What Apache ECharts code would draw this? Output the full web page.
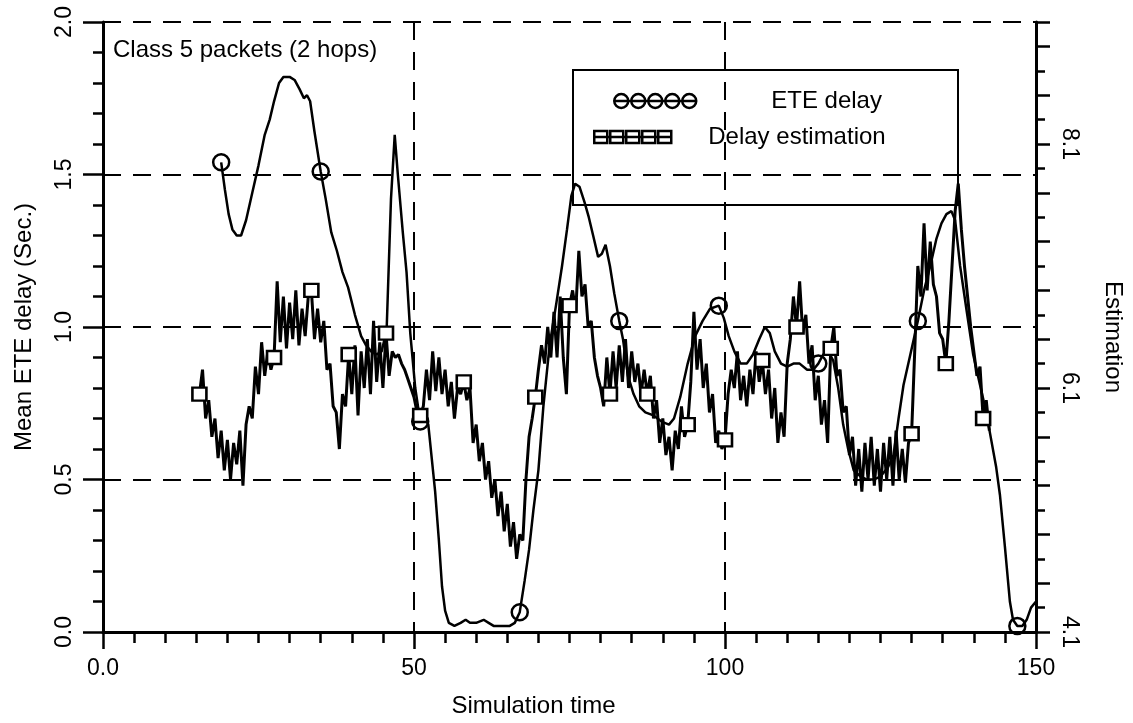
<!DOCTYPE html>
<html>
<head>
<meta charset="utf-8">
<title>Class 5 packets (2 hops)</title>
<script src="https://cdn.jsdelivr.net/npm/echarts@6/dist/echarts.min.js"></script>
<style>
  html, body { margin: 0; padding: 0; background: #fff; }
  #chart { width: 1133px; height: 723px; }
</style>
</head>
<body>
<div id="chart"></div>
<script>
// Axis tick labels
const timeTickLabels = ['0.0', '50', '100', '150'];
const delayTickLabels = ['0.0', '0.5', '1.0', '1.5', '2.0'];
const estimationTickLabels = ['4.1', '6.1', '8.1'];

// Mean end-to-end delay (seconds) against simulation time
const eteTime = [
  19, 19.6, 20.2, 20.8, 21.5, 22.2, 23.0, 24.0, 25.0, 26.0,
  26.8, 27.5, 28.3, 29.0, 30.0, 30.8, 31.6, 32.3, 32.8, 33.3,
  34.0, 35, 35.8, 36.7, 37.6, 38.5, 39.4, 40.5, 41.5, 42.3,
  43.1, 44.0, 44.8, 45.6, 46.3, 46.9, 47.4, 48.2, 48.8, 49.4,
  50.2, 51, 51.8, 52.3, 52.8, 53.4, 54.0, 54.5, 55.0, 55.6,
  56.5, 57.5, 58.3, 59.0, 60.0, 61.2, 62.0, 62.8, 64.0, 65.4,
  66.2, 67, 67.8, 68.5, 69.2, 70.0, 70.8, 71.8, 72.9, 73.8,
  74.6, 75.3, 75.9, 76.6, 77.4, 78.1, 78.8, 79.6, 80.2, 80.8,
  81.5, 82.2, 83, 83.6, 84.4, 85.3, 86.2, 87.2, 88.5, 89.8,
  91.0, 91.8, 92.8, 94.0, 95.2, 96.4, 97.6, 99, 99.8, 100.6,
  101.5, 102.5, 103.5, 104.5, 105.5, 106.4, 107.2, 108.0, 109.0, 110.0,
  111.0, 112.0, 113.2, 114.2, 115, 115.8, 116.6, 117.4, 118.2, 119.0,
  119.8, 120.7, 121.8, 122.8, 124.0, 125.0, 126.2, 127.1, 127.9, 128.7,
  129.8, 131, 132.0, 133.0, 134.0, 134.8, 135.6, 136.4, 137.0, 137.8,
  138.8, 139.9, 141.0, 142.0, 142.8, 143.6, 144.2, 145.0, 145.8, 146.3,
  147, 147.8, 148.5, 149.2, 150.0
];
const eteDelay = [
  1.54, 1.45, 1.37, 1.32, 1.30, 1.30, 1.35, 1.44, 1.53, 1.63,
  1.68, 1.74, 1.80, 1.82, 1.82, 1.81, 1.78, 1.75, 1.76, 1.74,
  1.64, 1.51, 1.42, 1.31, 1.25, 1.18, 1.13, 1.04, 0.97, 0.94,
  0.92, 0.91, 0.92, 0.99, 1.42, 1.63, 1.50, 1.31, 1.18, 0.98,
  0.80, 0.69, 0.70, 0.68, 0.58, 0.46, 0.30, 0.15, 0.07, 0.03,
  0.02, 0.03, 0.04, 0.03, 0.03, 0.04, 0.03, 0.02, 0.02, 0.02,
  0.03, 0.065, 0.17, 0.27, 0.40, 0.53, 0.74, 0.94, 1.08, 1.20,
  1.32, 1.43, 1.47, 1.46, 1.41, 1.36, 1.30, 1.23, 1.24, 1.27,
  1.20, 1.11, 1.02, 0.96, 0.84, 0.78, 0.74, 0.72, 0.71, 0.69,
  0.68, 0.70, 0.77, 0.88, 0.97, 1.02, 1.06, 1.07, 1.03, 0.97,
  0.92, 0.88, 0.88, 0.91, 0.96, 1.00, 0.98, 0.92, 0.88, 0.87,
  0.88, 0.88, 0.86, 0.86, 0.88, 0.91, 0.92, 0.89, 0.80, 0.68,
  0.60, 0.53, 0.51, 0.50, 0.50, 0.51, 0.54, 0.58, 0.70, 0.81,
  0.91, 1.02, 1.12, 1.20, 1.29, 1.34, 1.37, 1.38, 1.35, 1.20,
  1.06, 0.91, 0.81, 0.72, 0.63, 0.54, 0.45, 0.28, 0.10, 0.04,
  0.02, 0.02, 0.04, 0.08, 0.10
];
const eteMarkTimes = [19, 35, 51, 67, 83, 99, 115, 131, 147];

// Delay estimation, sampled every half time unit from t = 15
const estStart = 15;
const estStep = 0.5;
const estValues = [
  0.76, 0.78, 0.86, 0.70, 0.76, 0.64, 0.70, 0.57, 0.66, 0.53,
  0.63, 0.50, 0.62, 0.55, 0.66, 0.48, 0.68, 0.74, 0.70, 0.87,
  0.78, 0.95, 0.84, 0.92, 0.86, 0.90, 1.15, 0.95, 1.10, 0.93,
  1.08, 0.96, 1.12, 0.94, 1.06, 0.97, 1.10, 1.12, 0.96, 1.06,
  0.95, 1.02, 0.86, 0.88, 0.74, 0.72, 0.60, 0.78, 0.74, 0.91,
  0.78, 0.94, 0.71, 0.92, 0.80, 0.96, 0.78, 1.02, 0.82, 0.95,
  0.80, 0.98, 0.84, 0.92, 0.90, 0.91, 0.88, 0.86, 0.83, 0.80,
  0.77, 0.72, 0.71, 0.74, 0.86, 0.76, 0.92, 0.79, 0.90, 0.78,
  0.86, 0.74, 0.82, 0.70, 0.80, 0.78, 0.82, 0.76, 0.80, 0.62,
  0.68, 0.56, 0.62, 0.50, 0.56, 0.44, 0.50, 0.38, 0.46, 0.33,
  0.42, 0.28, 0.36, 0.24, 0.32, 0.30, 0.50, 0.64, 0.70, 0.77,
  0.86, 0.94, 0.88, 1.00, 0.90, 1.05, 0.90, 1.10, 0.90, 0.78,
  1.07, 1.12, 1.05, 1.25, 1.10, 1.14, 1.00, 1.02, 0.90, 0.84,
  0.80, 0.74, 0.90, 0.78, 0.92, 0.80, 0.94, 0.82, 0.96, 0.80,
  0.92, 0.82, 0.88, 0.78, 0.86, 0.78, 0.84, 0.70, 0.76, 0.62,
  0.70, 0.58, 0.64, 0.53, 0.66, 0.60, 0.74, 0.64, 0.68, 0.82,
  1.05, 0.86, 0.96, 0.80, 0.88, 0.72, 0.78, 0.62, 0.66, 0.60,
  0.63, 0.78, 0.86, 0.80, 0.92, 0.76, 0.84, 0.74, 0.86, 0.78,
  0.92, 0.82, 0.89, 0.78, 0.86, 0.70, 0.80, 0.62, 0.72, 0.64,
  0.88, 0.96, 1.10, 1.00, 1.15, 0.98, 1.04, 0.88, 0.94, 0.76,
  0.84, 0.68, 0.76, 0.62, 0.93, 1.00, 0.84, 0.86, 0.72, 0.74,
  0.58, 0.64, 0.48, 0.60, 0.46, 0.62, 0.50, 0.64, 0.48, 0.60,
  0.46, 0.62, 0.50, 0.64, 0.48, 0.66, 0.50, 0.60, 0.49, 0.62,
  0.65, 0.92, 1.20, 1.10, 1.34, 1.12, 1.28, 1.14, 1.10, 0.98,
  0.96, 0.88, 1.02, 1.20, 1.38, 1.47, 1.32, 1.20, 1.10, 1.00,
  0.92, 0.84, 0.87, 0.70, 0.76, 0.66
];
const estMarkTimes = [15.5, 27.5, 33.5, 39.5, 45.5, 51, 58, 69.5, 75, 81.5,
  87.5, 94, 100, 106, 111.5, 117, 130, 135.5, 141.5];

const FONT = '"Liberation Sans", Arial, Helvetica, sans-serif';
const INK = '#000';

const etePoints = eteTime.map((t, i) => [t, eteDelay[i]]);
const estPoints = estValues.map((v, i) => [estStart + i * estStep, v]);
const eteMarks = eteMarkTimes.map(t => etePoints[eteTime.indexOf(t)]);
const estMarks = estMarkTimes.map(t => estPoints[Math.round((t - estStart) / estStep)]);

// Legend icons: a short run of hollow markers strung on a line
function markerChainPath(kind) {
  let p = '';
  if (kind === 'circle') {
    for (let k = 0; k < 5; k++) {
      const x = k * 17;
      p += `M${x} 7 a7 7 0 1 0 14 0 a7 7 0 1 0 -14 0 `;
    }
    p += 'M0 7 L82 7';
  } else {
    for (let k = 0; k < 5; k++) {
      const x = k * 16;
      p += `M${x} 0 h13 v12 h-13 Z `;
    }
    p += 'M0 6 L77 6';
  }
  return 'path://' + p;
}

const tickText = { color: INK, fontFamily: FONT, fontSize: 23 };
const nameText = { color: INK, fontFamily: FONT, fontSize: 24 };
const dashed = { color: INK, width: 2, type: [18, 12] };

const chart = echarts.init(document.getElementById('chart'), null, { renderer: 'canvas' });

chart.setOption({
  animation: false,
  backgroundColor: '#fff',
  title: {
    text: 'Class 5 packets (2 hops)',
    left: 113, top: 38, padding: 0,
    textStyle: { color: INK, fontFamily: FONT, fontSize: 24, fontWeight: 'normal' }
  },
  grid: { left: 103, right: 90, top: 22, bottom: 87 },
  legend: [
    {
      left: 613, top: 89, padding: 0, selectedMode: false,
      itemWidth: 82, itemHeight: 14,
      data: [{ name: 'ETE delay', icon: markerChainPath('circle') }],
      itemStyle: { color: 'rgba(0,0,0,0)', borderColor: INK, borderWidth: 2.5 },
      textStyle: { color: INK, fontFamily: FONT, fontSize: 24, padding: [0, 0, 0, 70] }
    },
    {
      left: 593, top: 125, padding: 0, selectedMode: false,
      itemWidth: 77, itemHeight: 12,
      data: [{ name: 'Delay estimation', icon: markerChainPath('rect') }],
      itemStyle: { color: 'rgba(0,0,0,0)', borderColor: INK, borderWidth: 2.5 },
      textStyle: { color: INK, fontFamily: FONT, fontSize: 24, padding: [0, 0, 0, 32] }
    }
  ],
  graphic: [{
    type: 'rect',
    shape: { x: 573, y: 70, width: 385, height: 135 },
    style: { fill: 'none', stroke: INK, lineWidth: 2 },
    z: 5
  }],
  xAxis: {
    type: 'value', min: 0, max: 150, interval: 50,
    name: 'Simulation time', nameLocation: 'middle', nameGap: 62,
    nameTextStyle: Object.assign({}, nameText, { padding: [0, 72, 0, 0] }),
    axisLine: { show: true, onZero: false, lineStyle: { color: INK, width: 3 } },
    axisTick: { show: true, length: 17, lineStyle: { color: INK, width: 2.5 } },
    minorTick: { show: true, splitNumber: 10, length: 11, lineStyle: { color: INK, width: 2.5 } },
    axisLabel: Object.assign({ margin: 25, formatter: v => timeTickLabels[Math.round(v / 50)] }, tickText),
    splitLine: { show: true, lineStyle: dashed }
  },
  yAxis: [
    {
      type: 'value', min: 0, max: 2, interval: 0.5, position: 'left',
      name: 'Mean ETE delay (Sec.)', nameLocation: 'middle', nameGap: 67,
      nameTextStyle: nameText,
      axisLine: { show: true, onZero: false, lineStyle: { color: INK, width: 3 } },
      axisTick: { show: true, length: 20, lineStyle: { color: INK, width: 2.5 } },
      minorTick: { show: true, splitNumber: 5, length: 10, lineStyle: { color: INK, width: 2.5 } },
      axisLabel: Object.assign({ margin: 27, rotate: 90, formatter: v => delayTickLabels[Math.round(v * 2)] }, tickText),
      splitLine: { show: true, lineStyle: dashed }
    },
    {
      // Estimation scale in tenths above 4.1
      type: 'value', min: 0, max: 50, interval: 4, position: 'right',
      name: 'Estimation', nameLocation: 'middle', nameGap: 65, nameRotate: -90,
      nameTextStyle: Object.assign({}, nameText, { padding: [0, 0, 0, 20] }),
      axisLine: { show: true, onZero: false, lineStyle: { color: INK, width: 3 } },
      axisTick: { show: true, length: 14, lineStyle: { color: INK, width: 2.5 } },
      minorTick: { show: true, splitNumber: 2, length: 9, lineStyle: { color: INK, width: 2.5 } },
      axisLabel: Object.assign({
        margin: 22, rotate: -90,
        formatter: v => (v % 20 === 0 && v <= 40) ? estimationTickLabels[v / 20] : ''
      }, tickText),
      splitLine: { show: false }
    }
  ],
  series: [
    {
      name: 'ETE delay', type: 'line', yAxisIndex: 0,
      data: etePoints, symbol: 'none', z: 3,
      color: INK,
      lineStyle: { color: INK, width: 2.5 }
    },
    {
      name: 'Delay estimation', type: 'line', yAxisIndex: 0,
      data: estPoints, symbol: 'none', z: 2,
      color: INK,
      lineStyle: { color: INK, width: 3 }
    },
    {
      name: 'ETE delay', type: 'scatter', yAxisIndex: 0,
      data: eteMarks, symbol: 'circle', symbolSize: 16, z: 6,
      itemStyle: { color: 'rgba(0,0,0,0)', borderColor: INK, borderWidth: 2.5, opacity: 1 }
    },
    {
      name: 'Delay estimation', type: 'scatter', yAxisIndex: 0,
      data: estMarks, symbol: 'rect', symbolSize: [14, 13], z: 6,
      itemStyle: { color: '#fff', borderColor: INK, borderWidth: 2.5, opacity: 1 }
    }
  ]
});
</script>
</body>
</html>
